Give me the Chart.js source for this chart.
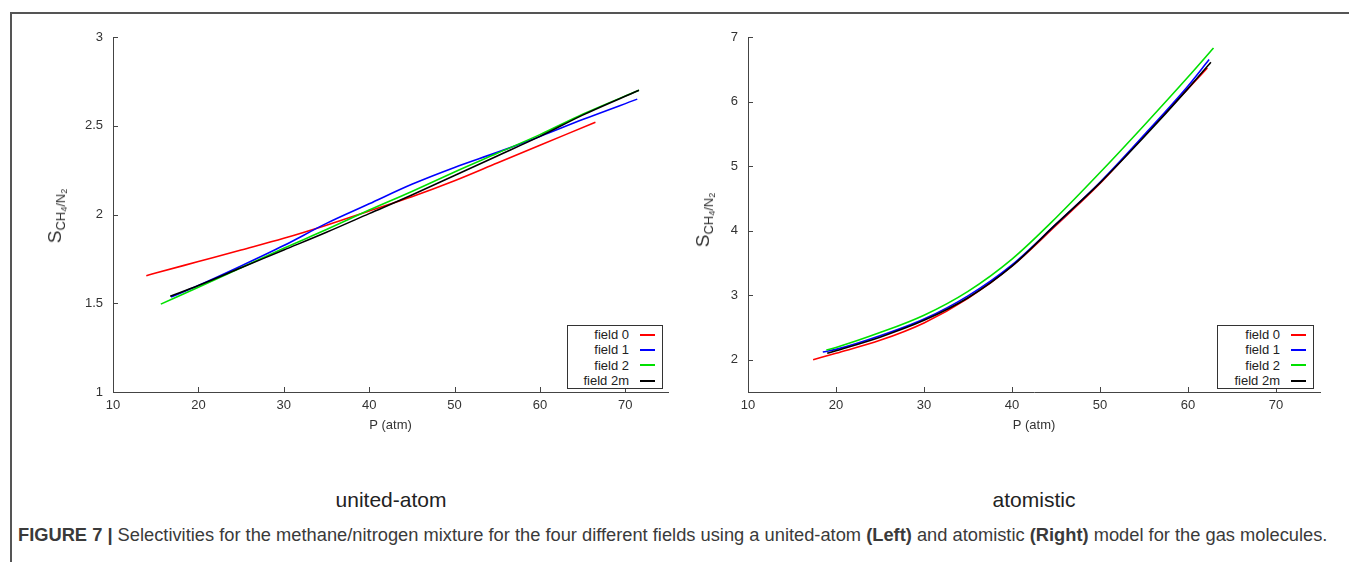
<!DOCTYPE html>
<html>
<head>
<meta charset="utf-8">
<script src="https://cdn.jsdelivr.net/npm/chart.js@4.4.1/dist/chart.umd.min.js"></script>
<style>
    body { margin: 0; background: #fff; }
    #figura { position: relative; width: 1349px; height: 562px; overflow: hidden; font-family: 'Liberation Sans', Arial, sans-serif; color: #333; }
    .moldura { position: absolute; left: 10px; top: 12px; width: 1400px; height: 600px; border-top: 2px solid #555; border-left: 2px solid #555; }
    .painel { position: absolute; top: 0; }
    .tituloY { position: absolute; transform: translate(-50%, -50%) rotate(-90deg); white-space: nowrap; color: #333; }
    .tituloY .s { font-size: 19px; }
    .tituloY .sub { font-size: 13px; position: relative; top: 4px; }
    .tituloY sub { font-size: 9px; vertical-align: -2px; }
    .legenda { position: absolute; border: 1px solid #333; background: #fff; padding: 0; }
    .legenda .linha { height: 15.3px; line-height: 15.3px; font-size: 13px; color: #222; display: flex; justify-content: flex-end; align-items: center; }
    .legenda .amostra { display: inline-block; width: 15px; height: 2px; margin-left: 11px; margin-right: 7px; }
    .rotulo { position: absolute; font-size: 21px; color: #222; transform: translate(-50%, -50%); white-space: nowrap; }
    .legendaFigura { position: absolute; left: 18px; top: 524px; margin: 0; font-size: 18.3px; color: #3a3a3a; white-space: nowrap; }
</style>
</head>
<body>
<div id="figura">
    <div class="moldura"></div>
    <div class="painel" style="left:0"><canvas id="graficoUnidoAtomo" width="680" height="450"></canvas></div>
    <div class="painel" style="left:680px"><canvas id="graficoAtomistico" width="669" height="450"></canvas></div>

    <div class="tituloY" style="left:55px;top:216px"><span class="s">S</span><span class="sub">CH<sub>4</sub>/N<sub>2</sub></span></div>
    <div class="tituloY" style="left:703px;top:220px"><span class="s">S</span><span class="sub">CH<sub>4</sub>/N<sub>2</sub></span></div>

    <div class="legenda" id="legendaEsq" style="left:567px;top:325px;width:94px"></div>
    <div class="legenda" id="legendaDir" style="left:1217px;top:325px;width:95px"></div>

    <div class="rotulo" style="left:391px;top:500px">united-atom</div>
    <div class="rotulo" style="left:1034px;top:500px">atomistic</div>

    <p class="legendaFigura"><b>FIGURE 7 |</b> Selectivities for the methane/nitrogen mixture for the four different fields using a united-atom <b>(Left)</b> and atomistic <b>(Right)</b> model for the gas molecules.</p>
</div>

<script>
// series names and colours
const nomesCampos = ['field 0', 'field 1', 'field 2', 'field 2m'];
const coresCampos = ['#ff0000', '#0000ff', '#00e000', '#000000'];

// united-atom model: pressure (atm) and selectivity
const pUA0 = [13.9, 15, 20, 25, 30, 35, 40, 45, 50, 55, 60, 63, 66.5];
const sUA0 = [1.655, 1.67, 1.735, 1.80, 1.866, 1.94, 2.02, 2.10, 2.19, 2.29, 2.39, 2.45, 2.52];
const pUA1 = [16.8, 20, 25, 30, 35, 40, 45, 50, 55, 60, 65, 71.4];
const sUA1 = [1.535, 1.60, 1.71, 1.825, 1.95, 2.06, 2.17, 2.265, 2.35, 2.44, 2.535, 2.65];
const pUA2 = [15.6, 20, 25, 30, 35, 40, 45, 50, 55, 60, 65, 71.6];
const sUA2 = [1.495, 1.59, 1.70, 1.81, 1.915, 2.025, 2.13, 2.24, 2.345, 2.45, 2.565, 2.70];
const pUA2m = [16.7, 20, 25, 30, 35, 40, 45, 50, 55, 60, 65, 71.6];
const sUA2m = [1.54, 1.60, 1.70, 1.80, 1.90, 2.005, 2.11, 2.22, 2.33, 2.44, 2.56, 2.70];

// atomistic model: pressure (atm) and selectivity
const pAT0 = [17.4, 20, 25, 30, 35, 40, 45, 50, 55, 60, 62.2];
const sAT0 = [2.00, 2.10, 2.30, 2.57, 2.95, 3.45, 4.08, 4.73, 5.47, 6.20, 6.52];
const pAT1 = [18.5, 20, 25, 30, 35, 40, 45, 50, 55, 60, 62.4];
const sAT1 = [2.12, 2.16, 2.37, 2.63, 2.99, 3.47, 4.10, 4.75, 5.48, 6.24, 6.65];
const pAT2 = [18.9, 20, 25, 30, 35, 40, 45, 50, 55, 60, 62.9];
const sAT2 = [2.15, 2.19, 2.42, 2.69, 3.06, 3.56, 4.20, 4.90, 5.63, 6.38, 6.83];
const pAT2m = [19.0, 20, 25, 30, 35, 40, 45, 50, 55, 60, 62.6];
const sAT2m = [2.10, 2.14, 2.35, 2.61, 2.96, 3.45, 4.10, 4.74, 5.45, 6.20, 6.61];

// tick labels
const ticksX = [10, 20, 30, 40, 50, 60, 70];
const ticksYUA = [1, 1.5, 2, 2.5, 3];
const ticksYAT = [2, 3, 4, 5, 6, 7];

const fonteEixo = { family: "'Liberation Sans', Arial, sans-serif", size: 13 };

// short tick marks drawn inside the plot area
const marcasInternas = {
    id: 'marcasInternas',
    afterDraw(chart) {
        const { ctx, chartArea, scales } = chart;
        ctx.save();
        ctx.strokeStyle = '#444';
        ctx.lineWidth = 1;
        ctx.beginPath();
        scales.x.ticks.forEach(t => {
            const px = Math.round(scales.x.getPixelForValue(t.value)) + 0.5;
            ctx.moveTo(px, chartArea.bottom);
            ctx.lineTo(px, chartArea.bottom - 5);
        });
        scales.y.ticks.forEach(t => {
            const py = Math.round(scales.y.getPixelForValue(t.value)) + 0.5;
            ctx.moveTo(chartArea.left, py);
            ctx.lineTo(chartArea.left + 5, py);
        });
        ctx.stroke();
        ctx.restore();
    }
};

document.addEventListener('DOMContentLoaded', function() {
    desenharGrafico('graficoUnidoAtomo', [[pUA0, sUA0], [pUA1, sUA1], [pUA2, sUA2], [pUA2m, sUA2m]],
        { yMin: 1, yMax: 3, ticksY: ticksYUA, larguraY: 113, direita: 12 });
    desenharGrafico('graficoAtomistico', [[pAT0, sAT0], [pAT1, sAT1], [pAT2, sAT2], [pAT2m, sAT2m]],
        { yMin: 1.5, yMax: 7, ticksY: ticksYAT, larguraY: 68, direita: 29 });
    montarLegenda('legendaEsq');
    montarLegenda('legendaDir');
});

function montarPontos(px, py) {
    return px.map((p, i) => ({ x: p, y: py[i] }));
}

function desenharGrafico(canvasId, series, cfg) {
    const ctx = document.getElementById(canvasId).getContext('2d');

    const datasets = series.map((s, i) => ({
        label: nomesCampos[i],
        data: montarPontos(s[0], s[1]),
        borderColor: coresCampos[i],
        borderWidth: 1.6,
        pointRadius: 0,
        cubicInterpolationMode: 'monotone',
        order: series.length - 1 - i
    }));

    new Chart(ctx, {
        type: 'line',
        data: { datasets: datasets },
        options: {
            responsive: false,
            animation: false,
            devicePixelRatio: 1,
            layout: { padding: { top: 37, right: cfg.direita, left: 0, bottom: 0 } },
            plugins: { legend: { display: false }, tooltip: { enabled: false } },
            scales: {
                x: {
                    type: 'linear',
                    min: 10,
                    max: 75,
                    afterBuildTicks: scale => { scale.ticks = ticksX.map(v => ({ value: v })); },
                    afterFit: scale => { scale.height = 58; },
                    grid: { display: false, drawTicks: false },
                    border: { display: true, color: '#444', width: 1 },
                    ticks: { color: '#333', font: fonteEixo, padding: 6, maxRotation: 0, callback: v => String(v) },
                    title: { display: true, text: 'P (atm)', color: '#333', font: fonteEixo, padding: { top: 0, bottom: 17 } }
                },
                y: {
                    type: 'linear',
                    min: cfg.yMin,
                    max: cfg.yMax,
                    afterBuildTicks: scale => { scale.ticks = cfg.ticksY.map(v => ({ value: v })); },
                    afterFit: scale => { scale.width = cfg.larguraY; },
                    grid: { display: false, drawTicks: false },
                    border: { display: true, color: '#444', width: 1 },
                    ticks: { color: '#333', font: fonteEixo, padding: 10, callback: v => String(v) }
                }
            }
        },
        plugins: [marcasInternas]
    });
}

function montarLegenda(id) {
    const caixa = document.getElementById(id);
    caixa.style.paddingTop = '1px';
    nomesCampos.forEach((nome, i) => {
        const linha = document.createElement('div');
        linha.className = 'linha';
        const texto = document.createElement('span');
        texto.textContent = nome;
        const amostra = document.createElement('span');
        amostra.className = 'amostra';
        amostra.style.background = coresCampos[i];
        linha.appendChild(texto);
        linha.appendChild(amostra);
        caixa.appendChild(linha);
    });
}
</script>
</body>
</html>
